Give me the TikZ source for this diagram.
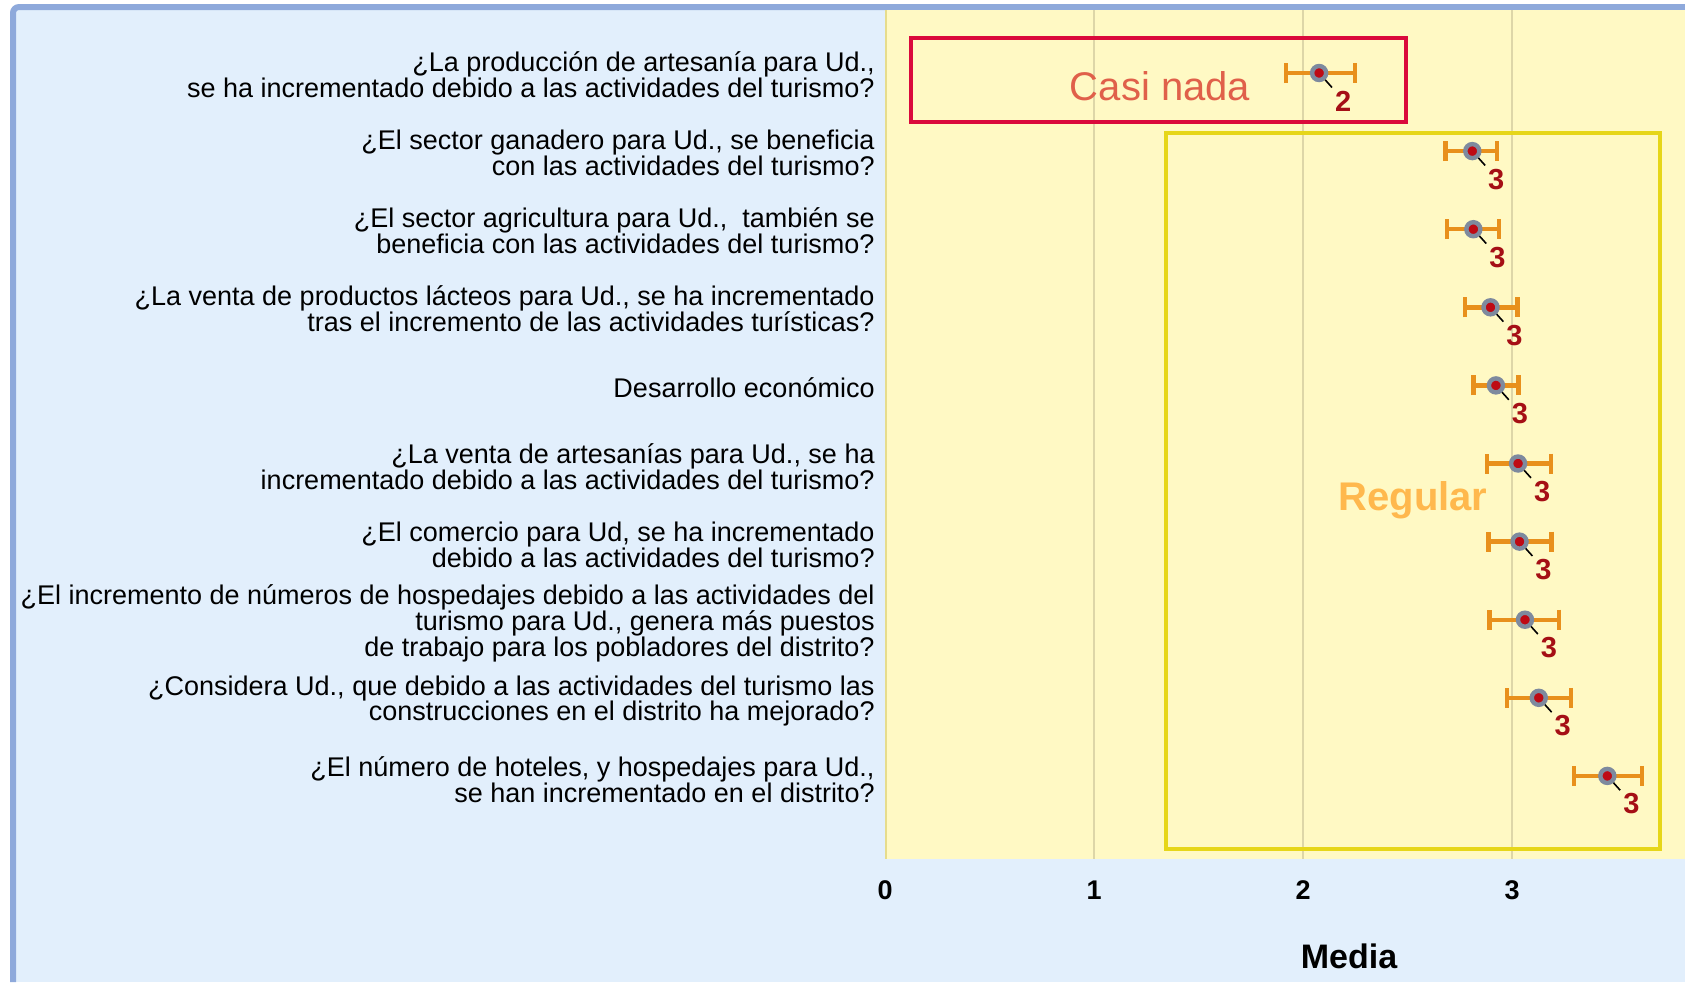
\documentclass[tikz,border=0pt]{standalone}
\usepackage{fontspec}
\setmainfont{Liberation Sans}
\usetikzlibrary{arrows.meta}

\definecolor{panelblue}{RGB}{226, 239, 252}
\definecolor{frameblue}{RGB}{142, 169, 219}
\definecolor{plotyellow}{RGB}{255, 249, 196}
\definecolor{gridtan}{RGB}{221, 214, 168}
\definecolor{axistan}{RGB}{230, 220, 140}
\definecolor{boxred}{RGB}{218, 10, 60}
\definecolor{boxyellow}{RGB}{230, 214, 25}
\definecolor{barorange}{RGB}{232, 144, 28}
\definecolor{dotgray}{RGB}{126, 138, 158}
\definecolor{dotred}{RGB}{190, 10, 20}
\definecolor{countred}{RGB}{165, 15, 21}
\definecolor{casired}{RGB}{224, 96, 74}
\definecolor{regorange}{RGB}{255, 184, 77}

\begin{document}
\begin{tikzpicture}[x = 0.5pt, y = -0.5pt, > = latex,
	question/.style = {anchor = east, align = right, inner sep = 0pt, font = \fontsize{13.5}{13}\selectfont},
	tick/.style = {inner sep = 0pt, font = \fontsize{13.5}{13}\selectfont\bfseries},
	errbar/.style = {draw = barorange, line width = 2.2pt, {Bar[width = 10pt]}-{Bar[width = 10pt]}},
	dot/.style = {circle, draw = dotgray, fill = dotred, line width = 2.2pt, minimum size = 7pt, inner sep = 0pt},
	count/.style = {inner sep = 0pt, text = countred, font = \fontsize{14.5}{14}\selectfont\bfseries},
	leader/.style = {draw = black, line width = 0.8pt, shorten > = 2pt}]

	\useasboundingbox (0, 0) rectangle (1685, 982);

	% Panel and frame

	\fill [panelblue] (13, 7) rectangle (1685, 982);
	\draw [draw = frameblue, line width = 3pt, rounded corners = 3pt] (13, 982) -- (13, 7) -- (1685, 7);

	% Plot area + grid

	\fill [plotyellow] (885, 10) rectangle (1685, 859);
	\foreach \t in {1, 2, 3}
		\draw [gridtan, line width = 1.2pt] ({885 + 209 * \t}, 10) -- ({885 + 209 * \t}, 859);
	\draw [axistan, line width = 1.2pt] (886, 10) -- (886, 859);

	% Axis labels

	\foreach \t in {0, 1, 2, 3}
		\node [tick] (t\t) at ({885 + 209 * \t}, 890) {\t};
	\node [inner sep = 0pt, font = \fontsize{17}{17}\selectfont\bfseries] (media) at (1349, 956) {Media};

	% Questions

	\node [question] (q1) at (875, 75) {¿La producción de artesanía para Ud.,\\se ha incrementado debido a las actividades del turismo?};
	\node [question] (q2) at (875, 153) {¿El sector ganadero para Ud., se beneficia\\con las actividades del turismo?};
	\node [question] (q3) at (875, 231) {¿El sector agricultura para Ud.,\ \ también se\\beneficia con las actividades del turismo?};
	\node [question] (q4) at (875, 309) {¿La venta de productos lácteos para Ud., se ha incrementado\\tras el incremento de las actividades turísticas?};
	\node [question] (q5) at (875, 388) {Desarrollo económico};
	\node [question] (q6) at (875, 467) {¿La venta de artesanías para Ud., se ha\\incrementado debido a las actividades del turismo?};
	\node [question] (q7) at (875, 545) {¿El comercio para Ud, se ha incrementado\\debido a las actividades del turismo?};
	\node [question] (q8) at (875, 623) {¿El incremento de números de hospedajes debido a las actividades del\\turismo para Ud., genera más puestos\\de trabajo para los pobladores del distrito?};
	\node [question] (q9) at (875, 701) {¿Considera Ud., que debido a las actividades del turismo las\\construcciones en el distrito ha mejorado?};
	\node [question] (q10) at (875, 780) {¿El número de hoteles, y hospedajes para Ud.,\\se han incrementado en el distrito?};

	% Category boxes

	\draw [boxyellow, line width = 2pt] (1166, 133) rectangle (1660, 849);
	\draw [boxred, line width = 2pt] (911, 38) rectangle (1406, 122);
	\node [text = casired, inner sep = 0pt, font = \fontsize{20}{20}\selectfont] (casi) at (1160, 86) {Casi nada};
	\node [text = regorange, inner sep = 0pt, font = \fontsize{20}{20}\selectfont\bfseries] (regular) at (1413, 500) {Regular};

	% Means with error bars

	\foreach \r/\m/\lo/\hi/\n in {1/2.077/1.908/2.258/2, 2/2.810/2.672/2.938/3, 3/2.815/2.677/2.949/3,
		4/2.897/2.764/3.036/3, 5/2.923/2.805/3.041/3, 6/3.029/2.871/3.196/3, 7/3.036/2.877/3.200/3,
		8/3.062/2.882/3.236/3, 9/3.128/2.964/3.292/3, 10/3.456/3.287/3.631/3} {
		\pgfmathsetmacro\y{73 + 78.1 * (\r - 1)}
		\draw [errbar] ({885 + 209 * \lo}, \y) -- ({885 + 209 * \hi}, \y);
		\node [dot] (p\r) at ({885 + 209 * \m}, \y) {};
		\node [count] (c\r) at ([shift = {(24, 28)}] p\r.center) {\n};
		\draw [leader] (p\r) -- (c\r.north west);
	}

\end{tikzpicture}
\end{document}
